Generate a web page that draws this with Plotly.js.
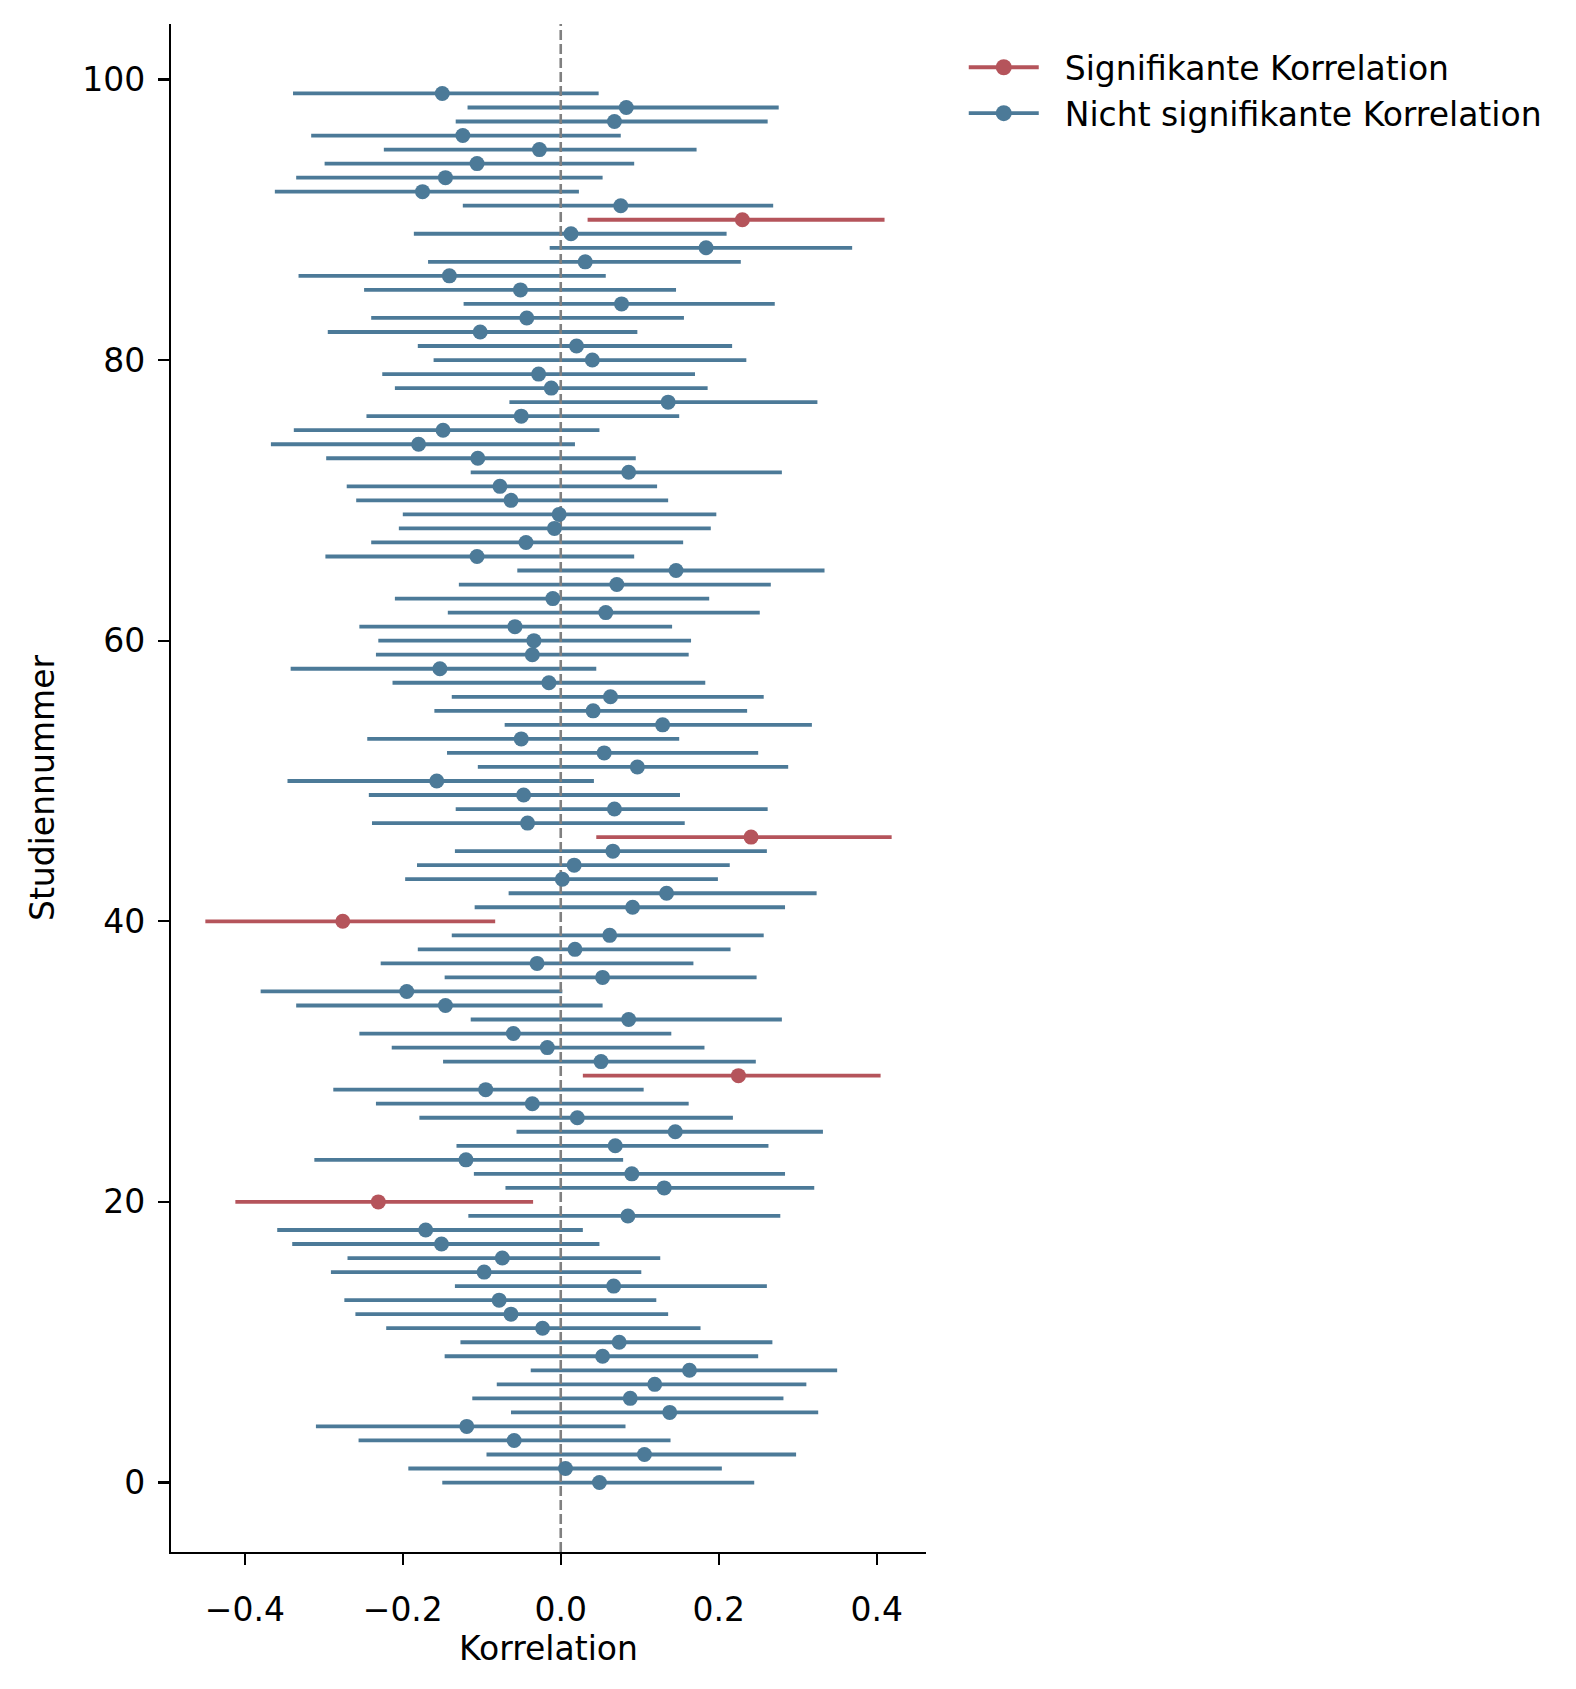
<!DOCTYPE html>
<html>
<head>
<meta charset="utf-8">
<script src="https://cdn.plot.ly/plotly-3.0.1.min.js"></script>
<style>
  html, body { margin: 0; padding: 0; background: #fff; }
  #chart { width: 1576px; height: 1689px; }
</style>
</head>
<body>
<div id="chart"></div>
<script>
// Studiennummer 0..99
let studies = [];
for (let i = 0; i < 100; i++) studies.push(i);

let corr = [
  0.049, 0.006, 0.106, -0.059, -0.119, 0.138, 0.088, 0.119, 0.163, 0.053,
  0.074, -0.023, -0.063, -0.078, 0.067, -0.097, -0.074, -0.151, -0.171, 0.085,
  -0.231, 0.131, 0.090, -0.120, 0.069, 0.145, 0.021, -0.036, -0.095, 0.225,
  0.051, -0.017, -0.060, 0.086, -0.146, -0.195, 0.053, -0.030, 0.018, 0.062,
  -0.276, 0.091, 0.134, 0.002, 0.017, 0.066, 0.241, -0.042, 0.068, -0.047,
  -0.157, 0.097, 0.055, -0.050, 0.129, 0.041, 0.063, -0.015, -0.153, -0.036,
  -0.034, -0.058, 0.057, -0.010, 0.071, 0.146, -0.106, -0.044, -0.008, -0.002,
  -0.063, -0.077, 0.086, -0.105, -0.180, -0.149, -0.050, 0.136, -0.012, -0.028,
  0.040, 0.020, -0.102, -0.043, 0.077, -0.051, -0.141, 0.031, 0.184, 0.013,
  0.230, 0.076, -0.175, -0.146, -0.106, -0.027, -0.124, 0.068, 0.083, -0.150
];

let ciLow = [
  -0.150, -0.193, -0.094, -0.256, -0.310, -0.063, -0.112, -0.081, -0.038, -0.147,
  -0.127, -0.221, -0.260, -0.274, -0.134, -0.291, -0.270, -0.340, -0.359, -0.117,
  -0.412, -0.070, -0.110, -0.312, -0.132, -0.056, -0.179, -0.234, -0.288, 0.028,
  -0.149, -0.214, -0.255, -0.114, -0.335, -0.380, -0.147, -0.228, -0.181, -0.138,
  -0.450, -0.109, -0.066, -0.197, -0.182, -0.134, 0.045, -0.239, -0.133, -0.243,
  -0.346, -0.105, -0.144, -0.245, -0.071, -0.160, -0.138, -0.213, -0.342, -0.234,
  -0.231, -0.255, -0.143, -0.210, -0.129, -0.055, -0.298, -0.240, -0.205, -0.200,
  -0.259, -0.271, -0.114, -0.297, -0.367, -0.338, -0.246, -0.065, -0.210, -0.226,
  -0.161, -0.181, -0.295, -0.240, -0.123, -0.249, -0.332, -0.168, -0.014, -0.186,
  0.034, -0.124, -0.362, -0.335, -0.299, -0.224, -0.316, -0.133, -0.118, -0.339
];

let ciHigh = [
  0.245, 0.204, 0.298, 0.139, 0.082, 0.326, 0.282, 0.311, 0.350, 0.250,
  0.268, 0.177, 0.136, 0.121, 0.261, 0.102, 0.126, 0.049, 0.028, 0.278,
  -0.035, 0.321, 0.284, 0.079, 0.263, 0.332, 0.218, 0.162, 0.105, 0.405,
  0.247, 0.182, 0.140, 0.280, 0.053, 0.002, 0.248, 0.168, 0.215, 0.257,
  -0.083, 0.284, 0.324, 0.199, 0.214, 0.261, 0.419, 0.157, 0.262, 0.151,
  0.042, 0.288, 0.250, 0.150, 0.318, 0.236, 0.257, 0.183, 0.045, 0.162,
  0.165, 0.141, 0.252, 0.188, 0.266, 0.334, 0.093, 0.155, 0.190, 0.197,
  0.136, 0.122, 0.280, 0.095, 0.018, 0.049, 0.150, 0.325, 0.186, 0.170,
  0.235, 0.217, 0.097, 0.156, 0.271, 0.146, 0.057, 0.228, 0.369, 0.210,
  0.410, 0.269, 0.023, 0.053, 0.093, 0.172, 0.076, 0.262, 0.276, 0.048
];

let xTicks = [-0.4, -0.2, 0.0, 0.2, 0.4];
let yTicks = [0, 20, 40, 60, 80, 100];

const RED = '#b5545b';
const BLUE = '#4c7a98';
const FONT = 'DejaVu Sans, Liberation Sans, sans-serif';
const FS = 33;

// Gruppen: CI schliesst 0 aus -> signifikant
function buildGroup(sig) {
  let segX = [], segY = [], ptX = [], ptY = [];
  for (let i = 0; i < studies.length; i++) {
    let isSig = ciLow[i] > 0 || ciHigh[i] < 0;
    if (isSig !== sig) continue;
    segX.push(ciLow[i], ciHigh[i], null);
    segY.push(studies[i], studies[i], null);
    ptX.push(corr[i]);
    ptY.push(studies[i]);
  }
  return { segX: segX, segY: segY, ptX: ptX, ptY: ptY };
}

let sigG = buildGroup(true);
let nsG = buildGroup(false);

let yMin = -4.95, yMax = 103.95;
let pad = '\u00a0\u00a0';

let traces = [
  { x: nsG.segX, y: nsG.segY, mode: 'lines', line: { color: BLUE, width: 3.8 },
    showlegend: false, hoverinfo: 'skip' },
  { x: sigG.segX, y: sigG.segY, mode: 'lines', line: { color: RED, width: 3.8 },
    showlegend: false, hoverinfo: 'skip' },
  { x: [0, 0], y: [yMin, yMax], mode: 'lines',
    line: { color: 'gray', width: 2.6, dash: '10px,4px' },
    showlegend: false, hoverinfo: 'skip' },
  { x: nsG.ptX, y: nsG.ptY, mode: 'markers', marker: { color: BLUE, size: 15 },
    showlegend: false },
  { x: sigG.ptX, y: sigG.ptY, mode: 'markers', marker: { color: RED, size: 15 },
    showlegend: false },
  // nur fuer die Legende
  { x: [null], y: [null], mode: 'lines+markers', name: pad + 'Signifikante Korrelation',
    line: { color: RED, width: 3.8 }, marker: { color: RED, size: 16 } },
  { x: [null], y: [null], mode: 'lines+markers', name: pad + 'Nicht signifikante Korrelation',
    line: { color: BLUE, width: 3.8 }, marker: { color: BLUE, size: 16 } }
];

let axisCommon = {
  showgrid: false,
  zeroline: false,
  showline: true,
  linecolor: 'black',
  linewidth: 2.2,
  ticks: 'outside',
  ticklen: 11,
  tickwidth: 2.2,
  tickcolor: 'black',
  tickfont: { family: FONT, size: FS, color: 'black' }
};

let layout = {
  width: 1576,
  height: 1689,
  margin: { l: 171, r: 650, t: 24, b: 137 },
  paper_bgcolor: 'white',
  plot_bgcolor: 'white',
  font: { family: FONT, size: FS, color: 'black' },
  xaxis: Object.assign({}, axisCommon, {
    range: [-0.4935, 0.4625],
    tickvals: xTicks,
    tickformat: '.1f',
    ticklabelstandoff: 16,
    title: { text: 'Korrelation', font: { family: FONT, size: FS }, standoff: 0 }
  }),
  yaxis: Object.assign({}, axisCommon, {
    range: [yMin, yMax],
    tickvals: yTicks,
    ticklabelstandoff: 6,
    title: { text: 'Studiennummer', font: { family: FONT, size: FS }, standoff: 18 }
  }),
  legend: {
    x: 1.05,
    y: 0.99,
    xanchor: 'left',
    yanchor: 'top',
    itemwidth: 70,
    font: { family: FONT, size: FS, color: 'black' },
    bgcolor: 'rgba(0,0,0,0)'
  },
  showlegend: true
};

Plotly.newPlot('chart', traces, layout, { staticPlot: true });
</script>
</body>
</html>
